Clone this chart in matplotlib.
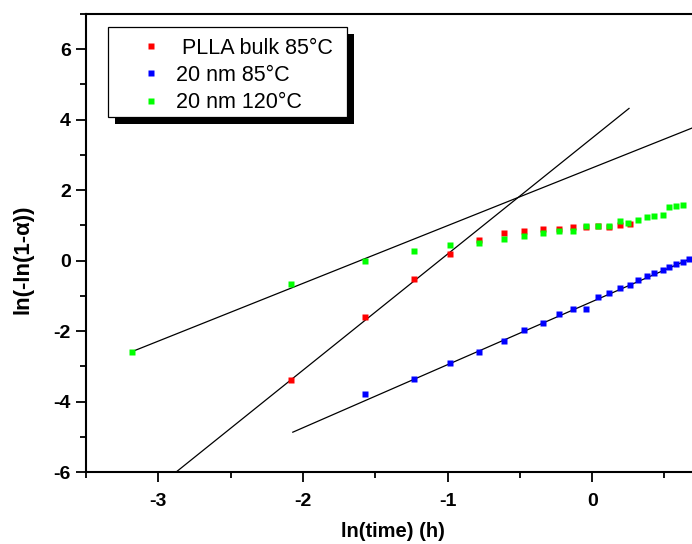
import matplotlib
matplotlib.use("Agg")
import matplotlib.pyplot as plt
from matplotlib.patches import Rectangle
from matplotlib.transforms import IdentityTransform
from matplotlib.ticker import MultipleLocator

plt.rcParams['font.family'] = ['Liberation Sans', 'DejaVu Sans']
plt.rcParams['font.weight'] = 'bold'
plt.rcParams['axes.unicode_minus'] = False

# PLLA bulk 85 C
bulk85_x = [-2.08, -1.57, -1.23, -0.98, -0.78, -0.61, -0.47, -0.34, -0.23, -0.13, -0.04, 0.04, 0.12, 0.19, 0.26]
bulk85_y = [-3.40, -1.59, -0.52, 0.19, 0.59, 0.77, 0.83, 0.90, 0.91, 0.94, 0.94, 0.97, 0.95, 1.01, 1.03]

# 20 nm 85 C
nm85_x = [-1.57, -1.23, -0.98, -0.78, -0.61, -0.47, -0.34, -0.23, -0.13, -0.04, 0.04, 0.12, 0.19,
          0.26, 0.32, 0.38, 0.43, 0.49, 0.53, 0.58, 0.63, 0.67]
nm85_y = [-3.80, -3.37, -2.90, -2.60, -2.28, -1.98, -1.78, -1.51, -1.38, -1.38, -1.04, -0.91, -0.78,
          -0.70, -0.56, -0.44, -0.36, -0.27, -0.19, -0.11, -0.05, 0.04]

# 20 nm 120 C
nm120_x = [-3.18, -2.08, -1.57, -1.23, -0.98, -0.78, -0.61, -0.47, -0.34, -0.23, -0.13, -0.04,
           0.04, 0.12, 0.19, 0.25, 0.32, 0.38, 0.43, 0.49, 0.53, 0.58, 0.63]
nm120_y = [-2.58, -0.67, 0.00, 0.26, 0.43, 0.49, 0.60, 0.69, 0.77, 0.83, 0.85, 0.99,
           0.99, 0.97, 1.12, 1.08, 1.14, 1.24, 1.27, 1.30, 1.51, 1.54, 1.58]

# linear fits (end points)
fit_bulk85_x = [-3.18, 0.255]
fit_bulk85_y = [-7.0, 4.32]
fit_nm85_x = [-2.07, 0.75]
fit_nm85_y = [-4.87, 0.18]
fit_nm120_x = [-3.18, 0.75]
fit_nm120_y = [-2.58, 3.86]

labels = [' PLLA bulk 85°C', '20 nm 85°C', '20 nm 120°C']

fig = plt.figure(figsize=(6.92, 5.44), dpi=100)
ax = fig.add_axes([86/692, 72/544, 614.6/692, 458/544])

ax.plot(fit_bulk85_x, fit_bulk85_y, color='k', lw=0.9)
ax.plot(fit_nm120_x, fit_nm120_y, color='k', lw=0.9)
ax.plot(fit_nm85_x, fit_nm85_y, color='k', lw=0.9)

ms = 4
ax.plot(bulk85_x, bulk85_y, 's', color='#ff0000', ms=ms, mec='none', label=labels[0])
ax.plot(nm85_x, nm85_y, 's', color='#0000ff', ms=ms, mec='none', label=labels[1])
ax.plot(nm120_x, nm120_y, 's', color='#00ff00', ms=ms, mec='none', label=labels[2])

ax.set_xlim(-3.5, 0.75)
ax.set_ylim(-6, 7)
ax.xaxis.set_major_locator(MultipleLocator(1))
ax.xaxis.set_minor_locator(MultipleLocator(0.5))
ax.yaxis.set_major_locator(MultipleLocator(2))
ax.yaxis.set_minor_locator(MultipleLocator(1))
ax.tick_params(which='major', direction='out', length=7, width=1.3, labelsize=14, pad=4)
ax.tick_params(axis='x', which='major', pad=8)
ax.tick_params(which='minor', direction='out', length=4, width=1.3)
for s in ['left', 'bottom', 'top']:
    ax.spines[s].set_linewidth(1.5)
ax.spines['right'].set_visible(False)

ax.set_xlabel('ln(time) (h)', fontsize=14.5, fontweight='bold', labelpad=9)
ax.set_ylabel('ln(-ln(1-α))', fontsize=16, fontweight='bold')
ax.yaxis.set_label_coords(-0.085, 0.465)

leg = ax.legend(loc='upper left', bbox_to_anchor=(0.0358, 0.9716), borderaxespad=0,
                frameon=False, prop={'size': 15.5, 'weight': 'normal'}, handlelength=3.0,
                handletextpad=-0.35, borderpad=0.5, labelspacing=0.29, numpoints=1)
leg.set_zorder(6)

# Origin-style frame with a solid black drop shadow
fig.canvas.draw()
bb = leg.get_window_extent()
w = bb.width + 4
h = bb.height - 7
y0 = bb.y0 + 7
frame = Rectangle((bb.x0, y0), w, h, transform=IdentityTransform(),
                  facecolor='white', edgecolor='k', lw=0.9, zorder=5, clip_on=False)
shadow = Rectangle((bb.x0 + 7, y0 - 7), w, h, transform=IdentityTransform(),
                   facecolor='k', edgecolor='none', zorder=4.9, clip_on=False)
ax.add_artist(shadow)
ax.add_artist(frame)

fig.savefig('out.png', dpi=100)
